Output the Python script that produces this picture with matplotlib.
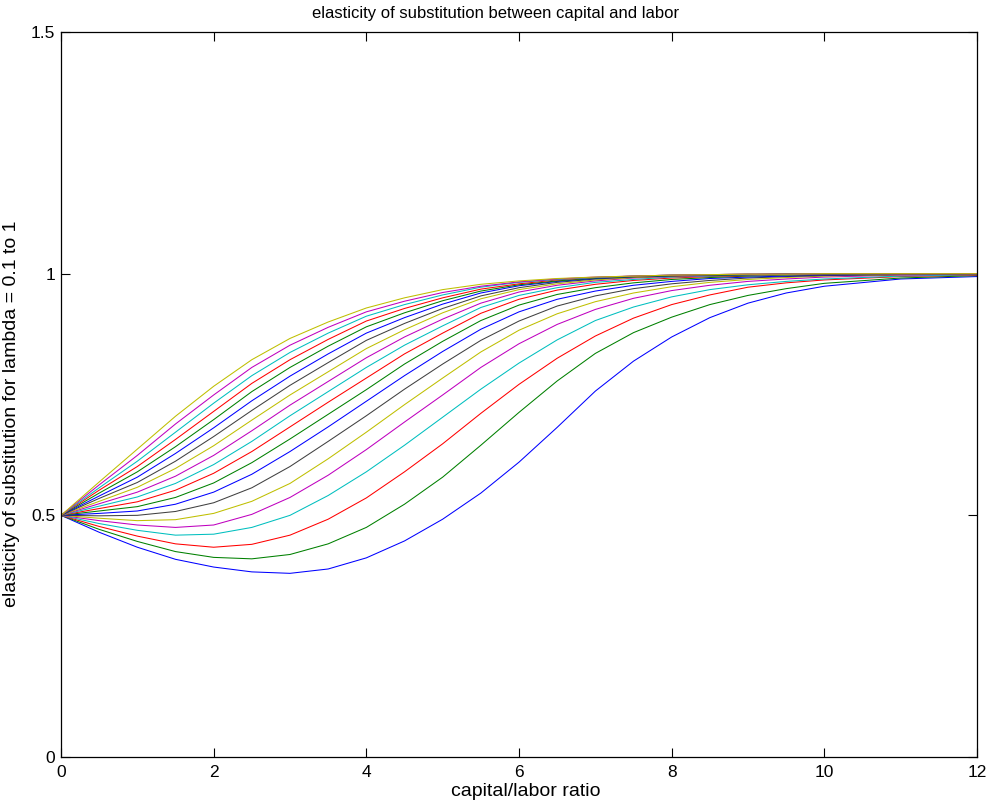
import matplotlib
matplotlib.use("Agg")
import matplotlib.pyplot as plt

plt.rcParams['font.family'] = ['Liberation Sans', 'DejaVu Sans']

# capital/labor ratio sample points
k_ratio = [0, 0.5, 1, 1.5, 2, 2.5, 3, 3.5, 4, 4.5, 5, 5.5, 6, 6.5, 7, 7.5, 8, 8.5, 9, 9.5, 10, 11, 12]

# elasticity curves, bottom (smallest lambda) to top
sigma_01 = [0.500, 0.465, 0.434, 0.409, 0.393, 0.383, 0.380, 0.389, 0.412, 0.447, 0.492, 0.546, 0.610, 0.682, 0.757, 0.819, 0.869, 0.909, 0.939, 0.960, 0.974, 0.989, 0.994]
sigma_02 = [0.500, 0.471, 0.446, 0.425, 0.413, 0.410, 0.419, 0.441, 0.475, 0.523, 0.579, 0.645, 0.713, 0.778, 0.835, 0.878, 0.910, 0.936, 0.955, 0.969, 0.980, 0.991, 0.996]
sigma_03 = [0.500, 0.477, 0.457, 0.441, 0.434, 0.440, 0.459, 0.492, 0.536, 0.590, 0.648, 0.711, 0.771, 0.825, 0.871, 0.908, 0.936, 0.956, 0.972, 0.981, 0.987, 0.994, 0.997]
sigma_04 = [0.500, 0.483, 0.469, 0.459, 0.461, 0.475, 0.500, 0.541, 0.590, 0.645, 0.703, 0.761, 0.815, 0.863, 0.903, 0.931, 0.952, 0.967, 0.977, 0.984, 0.989, 0.995, 0.998]
sigma_05 = [0.500, 0.489, 0.480, 0.475, 0.480, 0.502, 0.537, 0.583, 0.636, 0.693, 0.749, 0.806, 0.855, 0.895, 0.926, 0.949, 0.965, 0.976, 0.984, 0.989, 0.993, 0.997, 0.999]
sigma_06 = [0.500, 0.494, 0.489, 0.491, 0.504, 0.529, 0.566, 0.617, 0.672, 0.729, 0.784, 0.838, 0.883, 0.917, 0.942, 0.960, 0.973, 0.982, 0.988, 0.992, 0.995, 0.998, 0.999]
sigma_07 = [0.500, 0.499, 0.500, 0.508, 0.526, 0.557, 0.601, 0.653, 0.706, 0.761, 0.813, 0.862, 0.902, 0.933, 0.954, 0.969, 0.979, 0.986, 0.991, 0.994, 0.996, 0.998, 0.999]
sigma_08 = [0.500, 0.504, 0.509, 0.523, 0.548, 0.585, 0.632, 0.683, 0.736, 0.789, 0.839, 0.885, 0.921, 0.947, 0.964, 0.976, 0.984, 0.990, 0.993, 0.995, 0.997, 0.999, 1.000]
sigma_09 = [0.500, 0.509, 0.518, 0.537, 0.567, 0.609, 0.658, 0.709, 0.760, 0.813, 0.860, 0.903, 0.935, 0.957, 0.971, 0.981, 0.988, 0.992, 0.995, 0.997, 0.998, 0.999, 1.000]
sigma_10 = [0.500, 0.514, 0.528, 0.552, 0.587, 0.632, 0.683, 0.734, 0.784, 0.834, 0.877, 0.918, 0.947, 0.966, 0.978, 0.986, 0.991, 0.994, 0.996, 0.998, 0.998, 0.999, 1.000]
sigma_11 = [0.500, 0.519, 0.538, 0.566, 0.605, 0.653, 0.706, 0.756, 0.806, 0.852, 0.892, 0.930, 0.955, 0.971, 0.982, 0.988, 0.993, 0.995, 0.997, 0.998, 0.999, 1.000, 1.000]
sigma_12 = [0.500, 0.524, 0.548, 0.581, 0.624, 0.675, 0.728, 0.777, 0.826, 0.869, 0.906, 0.939, 0.962, 0.976, 0.985, 0.991, 0.994, 0.996, 0.998, 0.999, 0.999, 1.000, 1.000]
sigma_13 = [0.500, 0.529, 0.558, 0.597, 0.644, 0.697, 0.749, 0.797, 0.845, 0.884, 0.919, 0.948, 0.967, 0.979, 0.987, 0.992, 0.995, 0.997, 0.998, 0.999, 0.999, 1.000, 1.000]
sigma_14 = [0.500, 0.535, 0.568, 0.612, 0.663, 0.717, 0.769, 0.816, 0.862, 0.897, 0.928, 0.954, 0.971, 0.982, 0.989, 0.993, 0.995, 0.997, 0.998, 0.999, 0.999, 1.000, 1.000]
sigma_15 = [0.500, 0.540, 0.579, 0.628, 0.681, 0.737, 0.788, 0.834, 0.877, 0.909, 0.937, 0.960, 0.975, 0.984, 0.990, 0.994, 0.996, 0.997, 0.998, 0.999, 0.999, 1.000, 1.000]
sigma_16 = [0.500, 0.546, 0.590, 0.642, 0.698, 0.756, 0.806, 0.850, 0.890, 0.919, 0.944, 0.964, 0.977, 0.985, 0.991, 0.994, 0.996, 0.997, 0.998, 0.999, 0.999, 1.000, 1.000]
sigma_17 = [0.500, 0.552, 0.601, 0.657, 0.715, 0.773, 0.822, 0.864, 0.902, 0.928, 0.950, 0.968, 0.979, 0.987, 0.992, 0.995, 0.997, 0.998, 0.999, 0.999, 1.000, 1.000, 1.000]
sigma_18 = [0.500, 0.557, 0.612, 0.672, 0.732, 0.789, 0.837, 0.877, 0.912, 0.936, 0.956, 0.972, 0.982, 0.988, 0.992, 0.995, 0.997, 0.998, 0.999, 0.999, 1.000, 1.000, 1.000]
sigma_19 = [0.500, 0.563, 0.624, 0.689, 0.749, 0.806, 0.852, 0.889, 0.921, 0.943, 0.961, 0.974, 0.983, 0.989, 0.993, 0.995, 0.997, 0.998, 0.999, 0.999, 1.000, 1.000, 1.000]
sigma_20 = [0.500, 0.569, 0.637, 0.705, 0.767, 0.822, 0.866, 0.900, 0.929, 0.950, 0.967, 0.978, 0.985, 0.990, 0.993, 0.995, 0.997, 0.998, 0.999, 0.999, 1.000, 1.000, 1.000]

series = [sigma_01, sigma_02, sigma_03, sigma_04, sigma_05, sigma_06, sigma_07,
          sigma_08, sigma_09, sigma_10, sigma_11, sigma_12, sigma_13, sigma_14,
          sigma_15, sigma_16, sigma_17, sigma_18, sigma_19, sigma_20]

x_ticks = [0, 2, 4, 6, 8, 10, 12]
y_ticks = [0, 0.5, 1, 1.5]
y_tick_labels = ['0', '0.5', '1', '1.5']

# MATLAB classic colour order
color_order = [(0, 0, 1), (0, 0.5, 0), (1, 0, 0), (0, 0.75, 0.75),
               (0.75, 0, 0.75), (0.75, 0.75, 0), (0.25, 0.25, 0.25)]

W, H = 988, 805
fig = plt.figure(figsize=(W / 100, H / 100), dpi=100)
ax = fig.add_axes([61 / W, 1 - 757 / H, (977 - 61) / W, (757 - 32) / H])

for i, s in enumerate(series):
    ax.plot(k_ratio, s, color=color_order[i % len(color_order)], linewidth=0.75)

ax.set_xlim(0, 12)
ax.set_ylim(0, 1.5)
ax.set_xticks(x_ticks)
ax.set_xticklabels([str(t) for t in x_ticks])
ax.set_yticks(y_ticks)
ax.set_yticklabels(y_tick_labels)
ax.tick_params(direction='in', length=6.5, width=0.8, top=True, right=True,
               labelsize=12.5, colors='black')
ax.tick_params(axis='x', pad=6)
ax.tick_params(axis='y', pad=4)
for sp in ax.spines.values():
    sp.set_linewidth(0.9)

ax.set_xlabel('capital/labor ratio', fontsize=14)
ax.xaxis.set_label_coords(0.507, -0.036)
ax.set_ylabel('elasticity of substitution for lambda = 0.1 to 1', fontsize=14)
ax.yaxis.set_label_coords(-0.0445, 0.473)
ax.set_title('elasticity of substitution between capital and labor', fontsize=12,
             x=0.474, pad=10)

fig.savefig('out.png', dpi=100)
